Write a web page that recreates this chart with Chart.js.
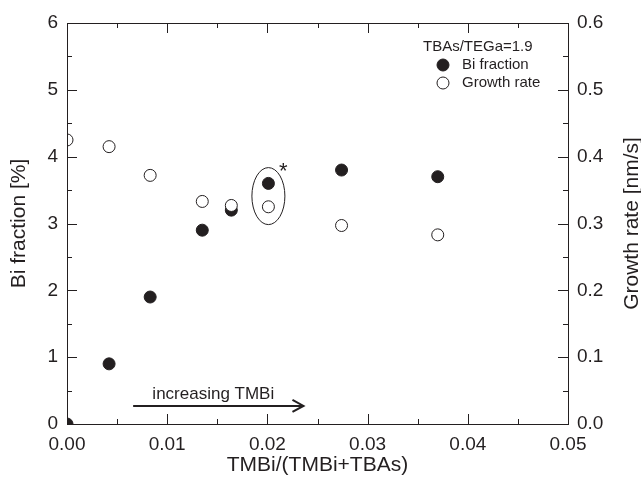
<!DOCTYPE html>
<html>
<head>
<title>Bi fraction and growth rate</title>
<script src="https://cdn.jsdelivr.net/npm/chart.js"></script>
<style>
    body { margin: 0; background: #fff; }
</style>
</head>
<body>
<canvas id="chart" width="641" height="485"></canvas>
<script>
    // values
    const tmbiRatio = [0, 0.0042, 0.0083, 0.0135, 0.0164, 0.0201, 0.0274, 0.0370];
    const biFraction = [0, 0.9, 1.9, 2.9, 3.2, 3.6, 3.8, 3.7];
    const growthRate = [0.425, 0.415, 0.372, 0.333, 0.327, 0.325, 0.297, 0.283];
    const xTicks = [0, 0.01, 0.02, 0.03, 0.04, 0.05];
    const biTicks = [0, 1, 2, 3, 4, 5, 6];
    const growthTicks = [0, 0.1, 0.2, 0.3, 0.4, 0.5, 0.6];
    const legendTitle = 'TBAs/TEGa=1.9';
    const rightTitle = 'Growth rate [nm/s]';
    const arrowText = 'increasing TMBi';
    const arrowFrom = [0.0066, 0.27];
    const arrowTo = [0.0236, 0.27];
    const ringCenter = [0.0201, 3.41];

    const ink = '#231f20';
    const font = '"Liberation Sans", Arial, sans-serif';

    const toPoints = (ys) => tmbiRatio.map((x, i) => ({ x: x, y: ys[i] }));

    // frame, inward ticks, legend and the hand drawn marks
    const decorations = {
        id: 'decorations',
        afterDraw(chart) {
            const ctx = chart.ctx;
            const { left, right, top, bottom } = chart.chartArea;
            const x = chart.scales.x, y = chart.scales.y;
            ctx.save();
            ctx.strokeStyle = ink;
            ctx.lineWidth = 1;
            ctx.strokeRect(left + 0.5, top + 0.5, right - left, bottom - top);

            ctx.beginPath();
            for (let i = 0; i <= 10; i++) {
                const v = i * 0.005;
                const len = i % 2 === 0 ? 10 : 5;
                const px = Math.round(x.getPixelForValue(v)) + 0.5;
                ctx.moveTo(px, bottom); ctx.lineTo(px, bottom - len);
                ctx.moveTo(px, top); ctx.lineTo(px, top + len);
            }
            for (let i = 0; i <= 12; i++) {
                const v = i * 0.5;
                const len = i % 2 === 0 ? 10 : 5;
                const py = Math.round(y.getPixelForValue(v)) + 0.5;
                ctx.moveTo(left, py); ctx.lineTo(left + len, py);
                ctx.moveTo(right, py); ctx.lineTo(right - len, py);
            }
            ctx.stroke();

            // right axis title reads bottom to top, like the left one
            ctx.save();
            ctx.translate(632, (top + bottom) / 2);
            ctx.rotate(-Math.PI / 2);
            ctx.fillStyle = ink;
            ctx.textAlign = 'center';
            ctx.textBaseline = 'middle';
            ctx.font = '21px ' + font;
            ctx.fillText(rightTitle, 0, 0);
            ctx.restore();

            // legend
            const lx = 443;
            ctx.fillStyle = ink;
            ctx.textBaseline = 'middle';
            ctx.textAlign = 'left';
            ctx.font = '15px ' + font;
            ctx.fillText(legendTitle, 423, 47);
            chart.data.datasets.forEach((ds, i) => {
                const ly = 65 + i * 18;
                ctx.beginPath();
                ctx.arc(lx, ly, 6, 0, Math.PI * 2);
                ctx.fillStyle = ds.backgroundColor;
                ctx.fill();
                ctx.strokeStyle = ds.borderColor;
                ctx.stroke();
                ctx.fillStyle = ink;
                ctx.fillText(ds.label, 462, ly);
            });

            // ellipse around the starred sample
            const cx = x.getPixelForValue(ringCenter[0]);
            const cy = y.getPixelForValue(ringCenter[1]);
            ctx.beginPath();
            ctx.ellipse(cx, cy, 16.5, 28.5, 0, 0, Math.PI * 2);
            ctx.strokeStyle = ink;
            ctx.stroke();
            ctx.font = '22px ' + font;
            ctx.textAlign = 'center';
            ctx.fillText('*', cx + 15, cy - 24);

            // arrow
            const ax0 = x.getPixelForValue(arrowFrom[0]);
            const ax1 = x.getPixelForValue(arrowTo[0]);
            const ay = y.getPixelForValue(arrowFrom[1]);
            ctx.lineWidth = 2;
            ctx.beginPath();
            ctx.moveTo(ax0, ay); ctx.lineTo(ax1, ay);
            ctx.moveTo(ax1 - 11, ay - 6); ctx.lineTo(ax1, ay); ctx.lineTo(ax1 - 11, ay + 6);
            ctx.stroke();
            ctx.font = '17px ' + font;
            ctx.fillText(arrowText, (ax0 + ax1) / 2 - 5, ay - 12);
            ctx.restore();
        }
    };

    new Chart(document.getElementById('chart'), {
        type: 'scatter',
        data: {
            datasets: [{
                label: 'Bi fraction',
                data: toPoints(biFraction),
                yAxisID: 'y',
                backgroundColor: ink,
                borderColor: ink,
                pointRadius: 6,
                borderWidth: 1,
                clip: 0,
                order: 2
            }, {
                label: 'Growth rate',
                data: toPoints(growthRate),
                yAxisID: 'y2',
                backgroundColor: '#fff',
                borderColor: ink,
                pointRadius: 6,
                borderWidth: 1,
                clip: 0,
                order: 1
            }]
        },
        options: {
            responsive: false,
            devicePixelRatio: 1,
            animation: false,
            layout: { padding: { top: 23, left: 0, right: 0, bottom: 0 } },
            plugins: { legend: { display: false }, tooltip: { enabled: false } },
            scales: {
                x: {
                    type: 'linear', position: 'bottom',
                    min: 0, max: 0.05,
                    afterBuildTicks: (s) => { s.ticks = xTicks.map(v => ({ value: v })); },
                    afterFit: (s) => { s.height = 61; },
                    grid: { display: false, drawTicks: false },
                    border: { display: false },
                    ticks: { padding: 9, color: ink, font: { family: font, size: 19 }, callback: (v) => v.toFixed(2) },
                    title: { display: true, text: 'TMBi/(TMBi+TBAs)', color: ink, padding: { bottom: 9 }, font: { family: font, size: 21, lineHeight: 1 } }
                },
                y: {
                    type: 'linear', position: 'left',
                    min: 0, max: 6,
                    afterBuildTicks: (s) => { s.ticks = biTicks.map(v => ({ value: v })); },
                    afterFit: (s) => { s.width = 67; },
                    grid: { display: false, drawTicks: false },
                    border: { display: false },
                    ticks: { padding: 9, color: ink, font: { family: font, size: 19 }, callback: (v) => String(v) },
                    title: { display: true, text: 'Bi fraction [%]', color: ink, padding: { top: 9 }, font: { family: font, size: 21, lineHeight: 1 } }
                },
                y2: {
                    type: 'linear', position: 'right',
                    min: 0, max: 0.6,
                    afterBuildTicks: (s) => { s.ticks = growthTicks.map(v => ({ value: v })); },
                    afterFit: (s) => { s.width = 73; },
                    grid: { display: false, drawTicks: false },
                    border: { display: false },
                    ticks: { padding: 9, color: ink, font: { family: font, size: 19 }, callback: (v) => v.toFixed(1) },
                    title: { display: false }
                }
            }
        },
        plugins: [decorations]
    });
</script>
</body>
</html>
